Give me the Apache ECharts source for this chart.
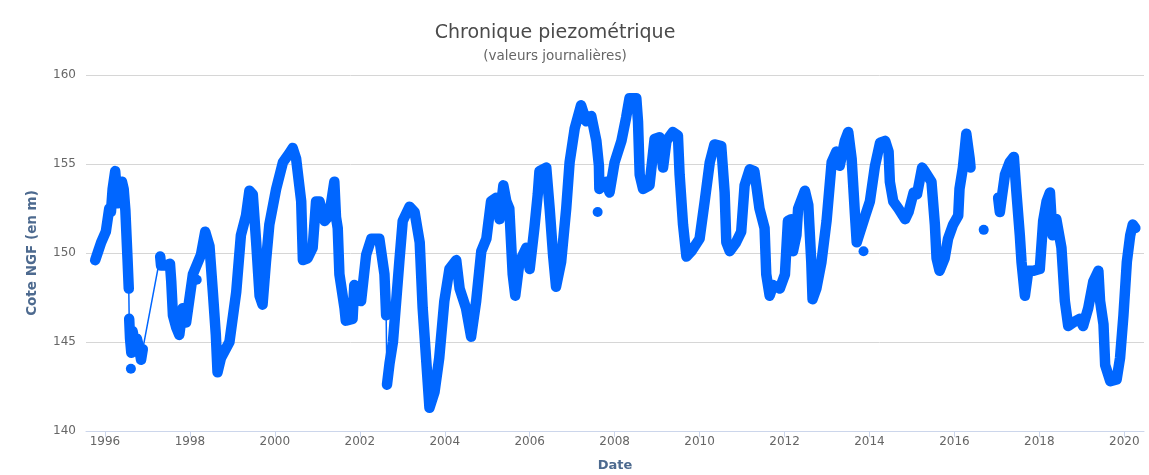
<!DOCTYPE html>
<html>
<head>
<meta charset="utf-8">
<script src="https://cdn.jsdelivr.net/npm/echarts@6/dist/echarts.min.js"></script>
<style>
html,body{margin:0;padding:0;background:#fff;}
#chart{width:1149px;height:475px;}
</style>
</head>
<body>
<div id="chart"></div>
<script>
// Decimal years and daily levels (m NGF), by continuous segment
const seg1 = [[1995.77,149.6],[1995.84,150.1],[1995.91,150.6],[1996.02,151.2],[1996.10,152.5],[1996.14,152.3],[1996.18,153.6],[1996.24,154.6],[1996.30,152.8],[1996.36,153.4],[1996.40,154.0],[1996.44,153.6],[1996.48,152.4],[1996.53,149.7],[1996.56,148.0]];
const seg2 = [[1996.57,146.3],[1996.59,145.2],[1996.62,144.4],[1996.65,145.6],[1996.70,145.0],[1996.75,145.2],[1996.80,144.7],[1996.85,144.0],[1996.89,144.6]];
const seg3 = [[1997.30,149.8],[1997.32,149.3],[1997.45,149.3],[1997.53,149.4],[1997.56,148.4],[1997.60,146.5],[1997.68,145.8],[1997.75,145.4],[1997.83,146.9],[1997.91,146.1],[1998.07,148.8],[1998.26,149.9],[1998.36,151.2],[1998.46,150.4],[1998.54,147.8],[1998.61,145.4],[1998.65,143.3],[1998.73,144.1],[1998.93,145.0],[1999.09,147.8],[1999.20,151.0],[1999.32,152.1],[1999.40,153.5],[1999.48,153.3],[1999.56,150.6],[1999.64,147.6],[1999.71,147.1],[1999.79,149.5],[1999.87,151.6],[2000.03,153.6],[2000.19,155.1],[2000.34,155.6],[2000.42,155.9],[2000.50,155.3],[2000.62,152.9],[2000.66,149.6],[2000.77,149.7],[2000.89,150.3],[2000.97,152.9],[2001.05,152.9],[2001.17,151.8],[2001.28,152.1],[2001.40,154.0],[2001.44,152.0],[2001.48,151.4],[2001.52,148.8],[2001.64,146.9],[2001.67,146.2],[2001.83,146.3],[2001.87,148.2],[2002.03,147.3],[2002.15,149.9],[2002.27,150.8],[2002.46,150.8],[2002.58,148.8],[2002.62,146.5]];
const seg4 = [[2002.64,142.6],[2002.70,143.8],[2002.78,145.0],[2002.93,149.5],[2003.01,151.8],[2003.17,152.6],[2003.29,152.3],[2003.41,150.6],[2003.48,146.9],[2003.56,144.1],[2003.64,141.3],[2003.76,142.2],[2003.87,144.1],[2003.99,147.3],[2004.11,149.1],[2004.27,149.6],[2004.35,148.0],[2004.50,146.9],[2004.62,145.3],[2004.74,147.3],[2004.86,150.1],[2004.98,150.8],[2005.09,152.9],[2005.21,153.1],[2005.29,151.9],[2005.38,153.8],[2005.45,152.9],[2005.52,152.5],[2005.60,148.8],[2005.66,147.6],[2005.76,149.5],[2005.92,150.3],[2006.00,149.1],[2006.11,151.4],[2006.19,153.3],[2006.23,154.6],[2006.39,154.8],[2006.47,152.5],[2006.55,149.9],[2006.62,148.1],[2006.74,149.5],[2006.86,152.5],[2006.94,155.1],[2007.06,157.0],[2007.21,158.3],[2007.33,157.4],[2007.45,157.7],[2007.57,156.3],[2007.63,154.9],[2007.64,153.6],[2007.80,154.0],[2007.88,153.4],[2008.00,155.1],[2008.16,156.3],[2008.27,157.6],[2008.35,158.7],[2008.51,158.7],[2008.55,157.4],[2008.59,154.4],[2008.67,153.6],[2008.82,153.8],[2008.94,156.4],[2009.06,156.5],[2009.14,154.8],[2009.22,156.3],[2009.37,156.8],[2009.49,156.6],[2009.53,154.4],[2009.61,151.6],[2009.69,149.8],[2009.81,150.1],[2010.00,150.8],[2010.12,152.9],[2010.24,155.1],[2010.35,156.1],[2010.51,156.0],[2010.59,153.4],[2010.63,150.6],[2010.71,150.1],[2010.86,150.6],[2010.98,151.2],[2011.06,153.8],[2011.18,154.7],[2011.29,154.6],[2011.41,152.5],[2011.53,151.4],[2011.57,148.8],[2011.65,147.6],[2011.73,148.2],[2011.89,148.0],[2012.01,148.8],[2012.08,151.8],[2012.16,151.9],[2012.20,150.1],[2012.28,151.0],[2012.32,152.5],[2012.48,153.5],[2012.56,152.7],[2012.63,149.5],[2012.66,147.4],[2012.75,148.0],[2012.87,149.5],[2012.99,151.8],[2013.11,155.1],[2013.22,155.7],[2013.30,154.9],[2013.42,156.3],[2013.50,156.8],[2013.58,155.3],[2013.66,152.1],[2013.70,150.6],[2013.78,151.2],[2013.90,152.1],[2014.01,152.9],[2014.13,154.9],[2014.25,156.2],[2014.37,156.3],[2014.45,155.7],[2014.48,154.0],[2014.56,152.9],[2014.68,152.5],[2014.84,151.9],[2014.92,152.3],[2015.04,153.4],[2015.12,153.3],[2015.24,154.8],[2015.30,154.6],[2015.46,154.0],[2015.54,151.6],[2015.58,149.7],[2015.65,149.0],[2015.77,149.7],[2015.85,150.8],[2015.97,151.6],[2016.09,152.1],[2016.12,153.6],[2016.20,154.8],[2016.28,156.7],[2016.36,155.3],[2016.38,154.8]];
const seg5 = [[2017.03,153.1],[2017.07,152.3],[2017.12,153.2],[2017.19,154.4],[2017.30,155.1],[2017.40,155.4],[2017.46,153.4],[2017.54,151.0],[2017.58,149.5],[2017.66,147.6],[2017.74,149.0],[2017.85,149.0],[2018.01,149.1],[2018.09,151.8],[2018.17,152.9],[2018.25,153.4],[2018.31,151.0],[2018.40,151.9],[2018.52,150.3],[2018.60,147.3],[2018.68,145.9],[2018.80,146.1],[2018.95,146.3],[2019.03,145.9],[2019.15,146.9],[2019.27,148.4],[2019.39,149.0],[2019.43,147.3],[2019.51,146.0],[2019.55,143.7],[2019.67,142.8],[2019.82,142.9],[2019.90,144.1],[2019.98,146.5],[2020.06,149.5],[2020.14,151.0],[2020.20,151.6],[2020.26,151.4]];
const isolated = [[1996.61,143.5],[1998.16,148.5],[2007.60,152.3],[2013.86,150.1],[2016.69,151.3]];
const tickYears = [1996,1998,2000,2002,2004,2006,2008,2010,2012,2014,2016,2018,2020];
const yTicks = [140,145,150,155,160];

const BLUE = '#0066ff';
const FONT = '"DejaVu Sans", Verdana, sans-serif';
const segments = [seg1, seg2, seg3, seg4, seg5];
const band = [];
segments.forEach((s, i) => { if (i) band.push(null); s.forEach(p => band.push(p)); });
// thin connecting lines across the short gaps (as in the original plot)
const connectors = [];
[[seg1, seg2], [seg2, seg3], [seg3, seg4]].forEach(([a, b], i) => {
  if (i) connectors.push(null);
  connectors.push(a[a.length - 1], b[0]);
});

const chart = echarts.init(document.getElementById('chart'), null, {renderer: 'canvas'});
chart.setOption({
  animation: false,
  backgroundColor: '#ffffff',
  textStyle: {fontFamily: FONT},
  title: [
    {text: 'Chronique piezométrique', left: 550, top: 19, textAlign: 'center',
     textStyle: {fontSize: 19, fontWeight: 'normal', color: '#4a4a4a', fontFamily: FONT}},
    {text: '(valeurs journalières)', left: 550, top: 44, textAlign: 'center',
     textStyle: {fontSize: 13.5, fontWeight: 'normal', color: '#666666', fontFamily: FONT}}
  ],
  grid: {left: 86, right: 5, top: 75, bottom: 44, containLabel: false, outerBoundsMode: 'none'},
  xAxis: {
    type: 'value', min: 1995.553, max: 2020.464,
    name: 'Date', nameLocation: 'middle', nameGap: 28,
    nameTextStyle: {fontSize: 13, fontWeight: 'bold', color: '#4d6a8f', fontFamily: FONT},
    axisLine: {show: true, lineStyle: {color: '#ccd6eb', width: 1}},
    axisTick: {show: true, length: 6, lineStyle: {color: '#ccd6eb'}, customValues: tickYears},
    axisLabel: {customValues: tickYears, formatter: v => String(Math.round(v)), color: '#666666', fontSize: 12, margin: 5, fontFamily: FONT},
    splitLine: {show: false}
  },
  yAxis: {
    type: 'value', min: 140, max: 160, interval: 5,
    name: 'Cote NGF (en m)', nameLocation: 'middle', nameGap: 47, nameRotate: 90,
    nameTextStyle: {fontSize: 13.5, fontWeight: 'bold', color: '#4d6a8f', fontFamily: FONT},
    axisLine: {show: false}, axisTick: {show: false},
    axisLabel: {color: '#666666', fontSize: 12, margin: 10, fontFamily: FONT},
    splitLine: {lineStyle: {color: '#d6d6d6', width: 1}}
  },
  series: [
    {type: 'line', data: connectors, showSymbol: false, connectNulls: false,
     lineStyle: {color: BLUE, width: 1.5}, z: 2},
    {type: 'line', data: band, showSymbol: false, connectNulls: false, smooth: false,
     lineStyle: {color: BLUE, width: 10.5, cap: 'round', join: 'round'}, z: 3},
    {type: 'scatter', data: isolated, symbol: 'circle', symbolSize: 10,
     itemStyle: {color: BLUE, opacity: 1}, z: 4}
  ]
});
</script>
</body>
</html>
